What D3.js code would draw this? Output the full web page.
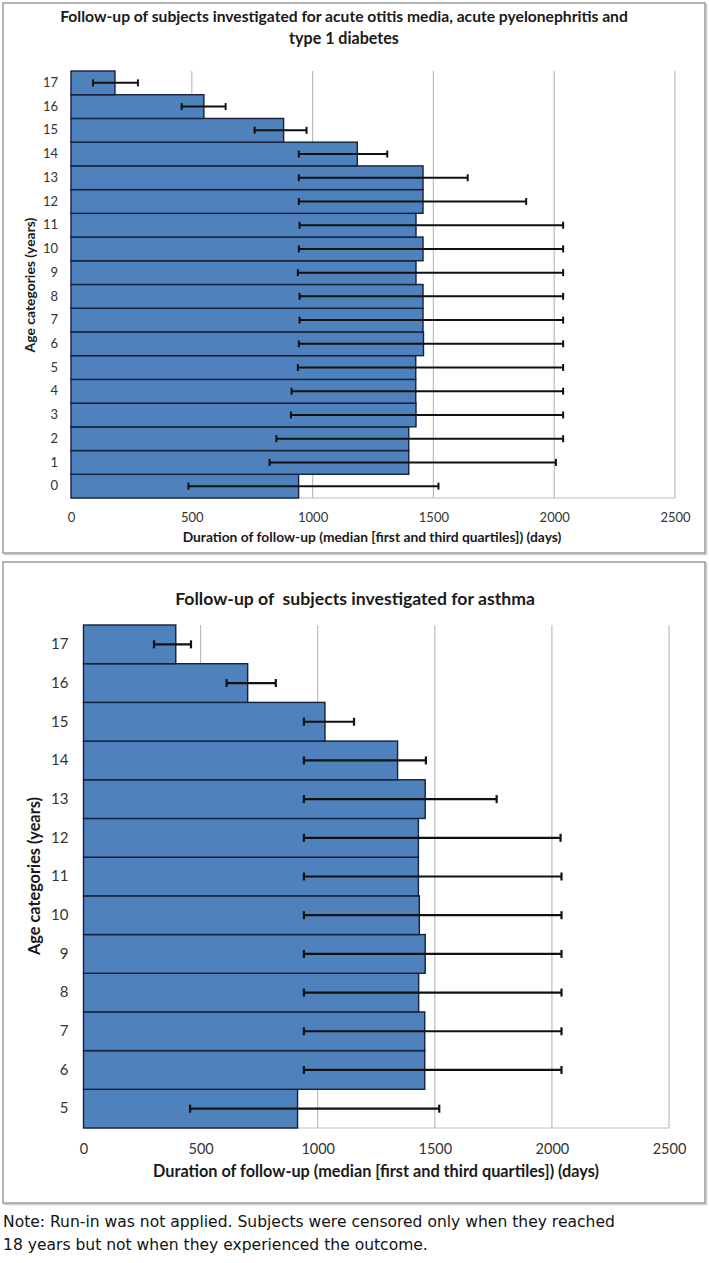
<!DOCTYPE html>
<html><head><meta charset="utf-8">
<script src="https://cdn.jsdelivr.net/npm/d3@7"></script>
<style>body{margin:0;background:#fff}svg{display:block}text{white-space:pre}</style>
</head><body>
<script>
// ---- Data ----
const topAges = [0,1,2,3,4,5,6,7,8,9,10,11,12,13,14,15,16,17];
const topMedian = [942,1398,1398,1428,1427,1427,1459,1457,1457,1428,1457,1428,1457,1457,1185,880,550,182];
const topQ1 = [486,822,850,910,913,939,943,946,946,939,943,946,943,943,943,760,458,91];
const topQ3 = [1521,2007,2037,2037,2037,2037,2037,2037,2037,2037,2037,2037,1884,1642,1309,975,640,277];

const botAges = [5,6,7,8,9,10,11,12,13,14,15,16,17];
const botMedian = [914,1457,1457,1431,1459,1434,1430,1430,1459,1341,1031,701,394];
const botQ1 = [455,941,941,941,941,941,941,941,941,941,941,611,301];
const botQ3 = [1519,2041,2041,2041,2041,2041,2041,2037,1764,1462,1155,821,459];

const xTicks = [0,500,1000,1500,2000,2500];
const topTitle = ["Follow-up of subjects investigated for acute otitis media, acute pyelonephritis and", "type 1 diabetes"];
const botTitle = ["Follow-up of  subjects investigated for asthma"];
const xTitle = "Duration of follow-up (median [first and third quartiles]) (days)";
const yTitle = "Age categories (years)";
const note = ["Note: Run-in was not applied. Subjects were censored only when they reached", "18 years but not when they experienced the outcome."];

const W = 709, H = 1263;
const svg = d3.select("body").append("svg").attr("width", W).attr("height", H);
const FONT = "Lato, 'Open Sans', sans-serif";

function fit(sel, target) {
  const n = sel.node();
  const fs = parseFloat(sel.attr("font-size"));
  const w = n.getComputedTextLength();
  if (w > 0) sel.attr("font-size", (fs * target / w).toFixed(2));
}

// boxes
function box(y0, y1) {
  svg.append("rect").attr("x", 4.5).attr("y", y0 + 1.5).attr("width", 702).attr("height", y1 - y0)
    .attr("fill", "none").attr("stroke", "#d0d0d0").attr("stroke-width", 1.5);
  svg.append("rect").attr("x", 3).attr("y", y0).attr("width", 702).attr("height", y1 - y0)
    .attr("fill", "#fff").attr("stroke", "#9a9a9a").attr("stroke-width", 1.5);
}
box(3, 553);
box(562, 1203);

function panel(cfg) {
  const g = svg.append("g");
  const x = d3.scaleLinear().domain([0, 2500]).range([cfg.x0, cfg.x1]);
  const y = d3.scaleBand().domain(cfg.ages.slice().reverse()).range([cfg.y0, cfg.y1]).padding(0);

  cfg.title.forEach((t, i) => {
    const s = g.append("text").attr("x", cfg.titleCx).attr("y", cfg.titleY[i])
      .attr("text-anchor", "middle").attr("font-family", FONT).attr("font-weight", "bold")
      .attr("font-size", 13).attr("fill", "#1a1a1a").text(t);
    fit(s, cfg.titleW[i]);
  });

  g.append("g").selectAll("line").data(xTicks.slice(1)).join("line")
    .attr("x1", d => x(d)).attr("x2", d => x(d)).attr("y1", cfg.y0).attr("y2", cfg.y1)
    .attr("stroke", "#bdbdbd").attr("stroke-width", 1.2);
  g.append("line").attr("x1", cfg.x0).attr("x2", cfg.x1).attr("y1", cfg.y1).attr("y2", cfg.y1)
    .attr("stroke", "#bdbdbd").attr("stroke-width", 1.2);

  const ax = d3.axisBottom(x).tickValues(xTicks).tickSize(0).tickPadding(cfg.tickPad).tickFormat(d3.format("d"));
  const axg = g.append("g").attr("transform", `translate(0,${cfg.y1})`).call(ax);
  axg.select(".domain").remove();
  axg.selectAll("text").attr("font-family", FONT).attr("font-size", cfg.tickFs).attr("fill", "#333");

  const idx = d3.range(cfg.ages.length);
  g.append("g").selectAll("rect").data(idx).join("rect")
    .attr("x", x(0)).attr("y", i => y(cfg.ages[i]))
    .attr("width", i => x(cfg.med[i]) - x(0)).attr("height", y.bandwidth())
    .attr("fill", "#4f81bd").attr("stroke", "#14213a").attr("stroke-width", 1.4);

  const ayg = g.append("g").attr("transform", `translate(${cfg.x0},0)`)
    .call(d3.axisLeft(y).tickSize(0).tickPadding(cfg.yPad));
  ayg.select(".domain").remove();
  ayg.selectAll("text").attr("font-family", FONT).attr("font-size", cfg.catFs).attr("fill", "#333");

  const eg = g.append("g").attr("stroke", "#111").attr("stroke-width", cfg.ew);
  idx.forEach(i => {
    const cy = y(cfg.ages[i]) + y.bandwidth() / 2;
    eg.append("line").attr("x1", x(cfg.q1[i])).attr("x2", x(cfg.q3[i])).attr("y1", cy).attr("y2", cy);
    [cfg.q1[i], cfg.q3[i]].forEach(v => {
      eg.append("line").attr("x1", x(v)).attr("x2", x(v)).attr("y1", cy - cfg.cap).attr("y2", cy + cfg.cap);
    });
  });

  const xt = g.append("text").attr("x", cfg.xTitleCx).attr("y", cfg.xTitleY).attr("text-anchor", "middle")
    .attr("font-family", FONT).attr("font-weight", "bold").attr("font-size", 12).attr("fill", "#1a1a1a").text(xTitle);
  fit(xt, cfg.xTitleW);
  const yt = g.append("text").attr("transform", `translate(${cfg.yTitleX},${cfg.yTitleCy}) rotate(-90)`)
    .attr("text-anchor", "middle").attr("font-family", FONT).attr("font-weight", "bold")
    .attr("font-size", 12).attr("fill", "#1a1a1a").text(yTitle);
  fit(yt, cfg.yTitleW);
}

panel({
  ages: topAges, med: topMedian, q1: topQ1, q3: topQ3,
  x0: 71, x1: 675, y0: 71, y1: 498,
  title: topTitle, titleCx: 344, titleY: [22, 44], titleW: [568, 110],
  tickFs: 13, tickPad: 15, catFs: 13, yPad: 13, ew: 2, cap: 3.5,
  xTitleCx: 372, xTitleY: 542, xTitleW: 379,
  yTitleX: 35, yTitleCy: 285, yTitleW: 135
});

panel({
  ages: botAges, med: botMedian, q1: botQ1, q3: botQ3,
  x0: 83.5, x1: 669, y0: 625, y1: 1128,
  title: botTitle, titleCx: 355, titleY: [605], titleW: [360],
  tickFs: 14.5, tickPad: 16, catFs: 15, yPad: 15, ew: 2.2, cap: 4,
  xTitleCx: 376, xTitleY: 1177, xTitleW: 446,
  yTitleX: 40, yTitleCy: 876, yTitleW: 158
});

// note
const noteSel = note.map((t, i) => svg.append("text").attr("x", 3).attr("y", [1227, 1250][i])
    .attr("font-family", "'DejaVu Sans', sans-serif").attr("font-size", 14).attr("fill", "#111").text(t));
fit(noteSel[0], 612);
noteSel[1].attr("font-size", noteSel[0].attr("font-size"));
</script>
</body></html>
